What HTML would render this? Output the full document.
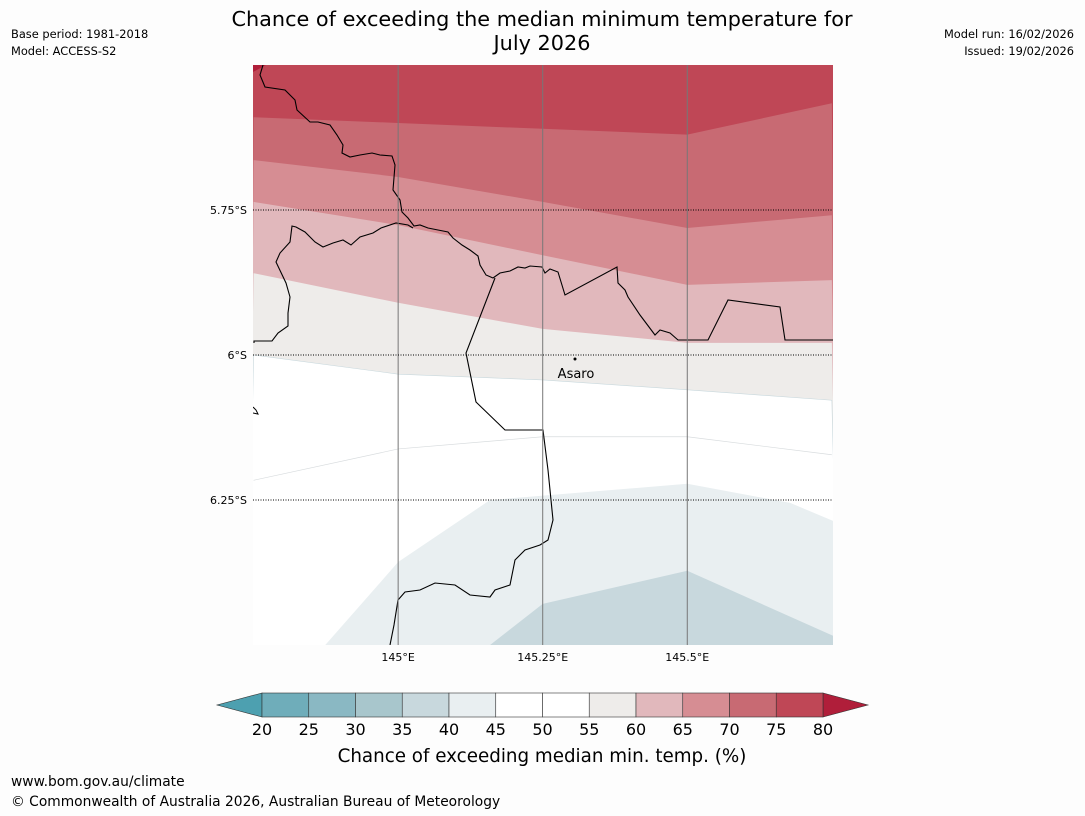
<!DOCTYPE html>
<html><head><meta charset="utf-8"><style>
body{margin:0;background:#fdfdfd;font-family:"DejaVu Sans",sans-serif;}
#root{position:relative;width:1085px;height:816px;overflow:hidden;background:#fdfdfd}
.t{position:absolute;color:#000;white-space:nowrap;font-family:"DejaVu Sans",sans-serif}
</style></head><body><div id="root">
<div class="t" style="left:192px;top:7px;width:700px;text-align:center;font-size:20.8px;line-height:24px">Chance of exceeding the median minimum temperature for<br>July 2026</div>
<div class="t" style="left:11px;top:26px;font-size:11.4px;line-height:17px">Base period: 1981-2018<br>Model: ACCESS-S2</div>
<div class="t" style="right:11px;top:26px;font-size:11.4px;line-height:17px;text-align:right">Model run: 16/02/2026<br>Issued: 19/02/2026</div>
<div class="t" style="left:11px;top:774px;font-size:13.8px">www.bom.gov.au/climate</div>
<div class="t" style="left:11px;top:794px;font-size:13.8px">© Commonwealth of Australia 2026, Australian Bureau of Meteorology</div>
<svg id="map" width="1085" height="816" style="position:absolute;left:0;top:0"></svg>
</div>
<script>
const lons=[144.75,145,145.25,145.5,145.75];
const b75=[5.59,5.60,5.61,5.62,5.566];
const b70=[5.664,5.693,5.736,5.781,5.759];
const b65=[5.736,5.776,5.828,5.879,5.871];
const b60=[5.859,5.910,5.955,5.979,5.979];
const b55=[6.0,6.033,6.043,6.060,6.078];
const b50=[6.216,6.162,6.141,6.141,6.172];
const p45Lon=[144.874,145,145.159,145.5,145.678,145.752];
const p45Lat=[6.5,6.357,6.25,6.222,6.255,6.286];
const p40Lon=[145.159,145.25,145.5,145.752];
const p40Lat=[6.5,6.429,6.372,6.484];
const lonTicks=[145,145.25,145.5];
const lonLabels=["145°E","145.25°E","145.5°E"];
const latTicks=[5.75,6,6.25];
const latLabels=["5.75°S","6°S","6.25°S"];
const cbLevels=[20,25,30,35,40,45,50,55,60,65,70,75,80];
const cbColors=["#6fadba","#8ab8c3","#a8c6cc","#c8d8dd","#e9eff1","#ffffff","#ffffff","#eeecea","#e1b8bc","#d68d93","#c86a73","#bf4756"];
const X0=253,X1=833,Y0=65,Y1=645,lonMin=144.749,lonMax=145.752,latMin=5.5,latMax=6.5;
const sx=l=>X0+(l-lonMin)/(lonMax-lonMin)*(X1-X0);
const sy=l=>Y0+(l-latMin)/(latMax-latMin)*(Y1-Y0);
const svg=document.getElementById('map');
const NS='http://www.w3.org/2000/svg';
const FONT='DejaVu Sans, sans-serif';
function mk(tag,attrs,parent){const e=document.createElementNS(NS,tag);for(const k in attrs)e.setAttribute(k,attrs[k]);(parent||svg).appendChild(e);return e;}
const defs=mk('defs',{});const cp=mk('clipPath',{id:'clip'},defs);mk('rect',{x:X0,y:Y0,width:X1-X0,height:Y1-Y0},cp);
const g=mk('g',{'clip-path':'url(#clip)'});
let e=mk('rect',{x:X0,y:Y0,width:X1-X0,height:Y1-Y0,fill:'#bf4756'},g);


e=mk('polygon',{points:`${X0},${Y0} 266,${Y0} ${X0},72`,fill:'#b01e3a'},g);


function band(b,color,name,stroke){
 const pts=lons.map((l,i)=>sx(l)+','+sy(b[i])).join(' ')+` ${X1+5},${Y1+5} ${X0-5},${Y1+5}`;
 const p=mk('polygon',{points:pts,fill:color},g);
 if(stroke){p.setAttribute('stroke',stroke);p.setAttribute('stroke-width','0.6');}
 
 
}
band(b75,'#c86a73','band-70-75');
band(b70,'#d68d93','band-65-70');
band(b65,'#e1b8bc','band-60-65');
band(b60,'#eeecea','band-55-60');
band(b55,'#ffffff','band-45-55','#c8d8dd');
e=mk('polyline',{points:lons.map((l,i)=>sx(l)+','+sy(b50[i])).join(' '),fill:'none',stroke:'#d8dcde','stroke-width':0.7},g);


e=mk('polygon',{points:p45Lon.map((l,i)=>sx(l)+','+sy(p45Lat[i])).join(' ')+` ${X1+5},${Y1+5}`,fill:'#e9eff1'},g);


e=mk('polygon',{points:p40Lon.map((l,i)=>sx(l)+','+sy(p40Lat[i])).join(' ')+` ${X1+5},${Y1+5}`,fill:'#c8d8dd'},g);


lonTicks.forEach((l,i)=>{const x=sx(l);
 const ln=mk('line',{x1:x,y1:Y0,x2:x,y2:Y1,stroke:'#777','stroke-width':1});
 
 
 const t=mk('text',{x:x,y:661,'font-size':11,'text-anchor':'middle','font-family':FONT});t.textContent=lonLabels[i];
 
 });
latTicks.forEach((l,i)=>{const y=sy(l);
 const ln=mk('line',{x1:X0,y1:y,x2:X1,y2:y,stroke:'#000','stroke-width':1,'stroke-dasharray':'1,1.5'});
 
 
 const t=mk('text',{x:247,y:y+4,'font-size':11,'text-anchor':'end','font-family':FONT});t.textContent=latLabels[i];
 
 });
const coast="263,65 260,75 265,87 285,90 295,100 297,110 310,122 318,122 330,125 337,135 343,145 342,153 350,157 360,155 372,153 380,155 392,156 395,165 393,190 400,200 402,212 408,218 414,226 420,225 428,228 438,230 448,232 453,238 462,245 470,250 478,256 480,265 486,275 493,278 500,273 510,271 518,267 525,268 530,266 542,267 545,273 550,269 558,272 565,295 617,267 618,283 625,290 628,297 640,315 655,335 660,330 670,333 678,340 708,340 728,300 780,307 785,340 833,340";
const coast2="254,343 254,341 272,341 278,333 288,326 288,313 290,297 286,283 276,262 280,253 290,242 292,226 296,227 305,232 315,242 323,247 333,243 343,240 351,245 360,237 373,233 381,228 396,223 408,225 413,228";
const border="495,278 466,353 476,402 505,430 543,430 548,470 553,520 548,540 540,545 525,550 515,560 510,585 495,590 490,597 470,595 455,585 435,583 420,590 405,592 398,600 394,625 390,645";
[[coast,'coastline'],[coast2,'coastline-west'],[border,'border-line']].forEach(([p,n])=>{
 const l=mk('polyline',{points:p,fill:'none',stroke:'#000','stroke-width':1.1},g);
 
 });
e=mk('polyline',{points:'253,407 256,410 258,414 253,413',fill:'none',stroke:'#000','stroke-width':1},g);


e=mk('circle',{cx:575,cy:359,r:1.5,fill:'#000'});


e=mk('text',{x:576,y:378,'font-size':13,'text-anchor':'middle','font-family':FONT});e.textContent='Asaro';


const CB0=262,CB1=823,CBY=693,CBH=24;
const cx=v=>CB0+(v-cbLevels[0])/(cbLevels[cbLevels.length-1]-cbLevels[0])*(CB1-CB0);
e=mk('polygon',{points:`${CB0},${CBY} ${CB0},${CBY+CBH} 217,${CBY+CBH/2}`,fill:'#4da0b0',stroke:'#333','stroke-width':0.6});


e=mk('polygon',{points:`${CB1},${CBY} ${CB1},${CBY+CBH} 868,${CBY+CBH/2}`,fill:'#b01e3a',stroke:'#333','stroke-width':0.6});


cbColors.forEach((c,i)=>{
 const r=mk('rect',{x:cx(cbLevels[i]),y:CBY,width:cx(cbLevels[i+1])-cx(cbLevels[i]),height:CBH,fill:c,stroke:'#333','stroke-width':0.6});
 
 });
cbLevels.forEach(v=>{
 const t=mk('text',{x:cx(v),y:735,'font-size':16,'text-anchor':'middle','font-family':FONT});t.textContent=v;
 
 });
e=mk('text',{x:542,y:762,'font-size':18.3,'text-anchor':'middle','font-family':FONT});e.textContent='Chance of exceeding median min. temp. (%)';


</script></body></html>
